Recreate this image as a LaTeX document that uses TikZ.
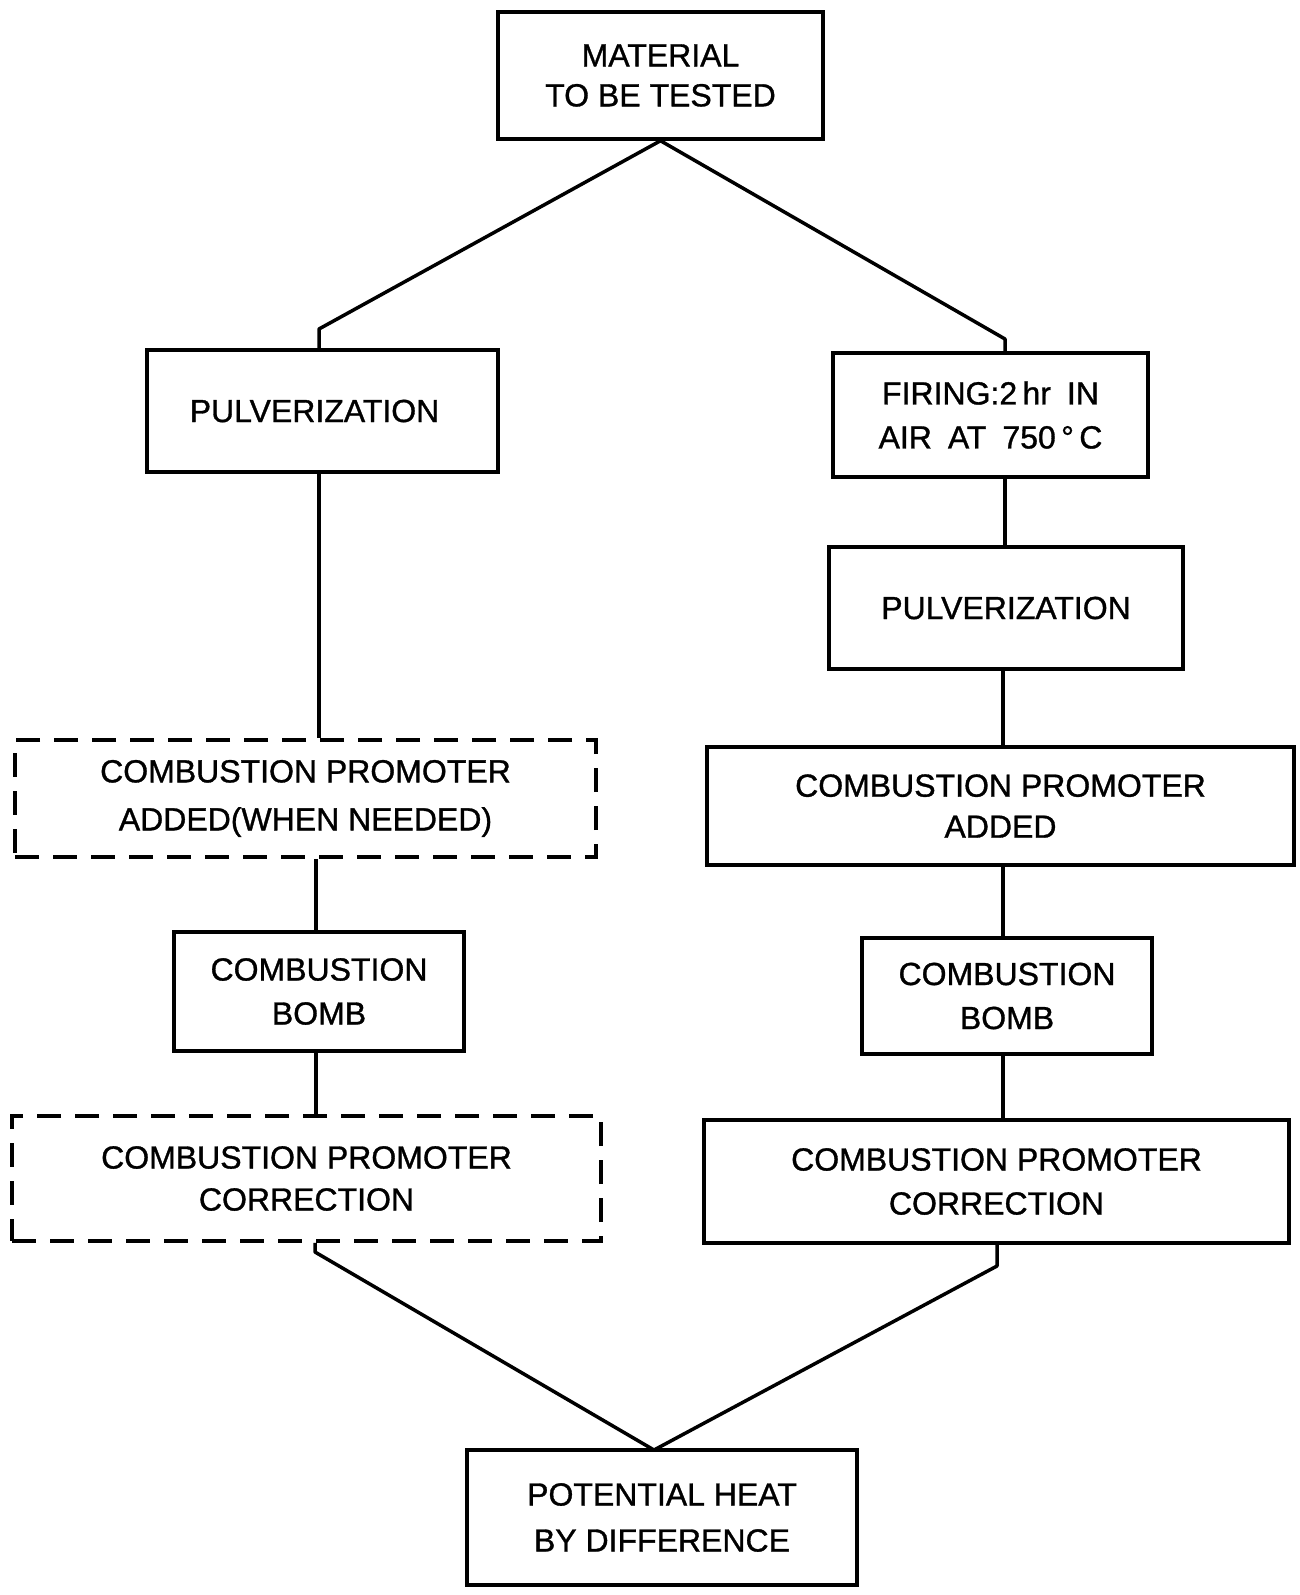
\documentclass[tikz,border=0pt]{standalone}
\usepackage{fontspec}
\setmainfont[FakeBold=1]{Liberation Sans}
\begin{document}
\begin{tikzpicture}[x=1pt,y=-1pt,
  box/.style={draw, line width=3.5pt, inner sep=0pt, align=center,
    font=\fontsize{32}{44}\selectfont},
  dbox/.style={box, dash pattern=on 24pt off 14pt},
  link/.style={line width=3.5pt, line join=round}]
\fill[white] (0,0) rectangle (1299,1595);
\useasboundingbox (0,0) rectangle (1299,1595);

\node[box, minimum width=325pt, minimum height=127pt, font=\fontsize{32}{40}\selectfont]
  (top) at (660.5,75.5) {MATERIAL\\TO BE TESTED};
\node[box, minimum width=351pt, minimum height=122pt] (lp) at (322.5,411) {PULVERIZATION\hspace{16pt}};
\node[box, minimum width=315pt, minimum height=124pt] (fire) at (990.5,415)
  {FIRING:2\,hr\enspace IN\hspace{10pt}\\AIR\enspace AT\enspace 750\,°\,C\hspace{10pt}};
\node[box, minimum width=354pt, minimum height=122pt] (rp) at (1006,608) {PULVERIZATION};
\node[dbox, minimum width=581pt, minimum height=117pt, font=\fontsize{32}{48}\selectfont]
  (ld) at (305.5,798.5) {COMBUSTION PROMOTER\\ADDED(WHEN NEEDED)};
\node[box, minimum width=587pt, minimum height=118pt, font=\fontsize{32}{41}\selectfont]
  (ra) at (1000.5,806) {COMBUSTION PROMOTER\\ADDED};
\node[box, minimum width=290pt, minimum height=119pt] (lb) at (319,991.5) {COMBUSTION\\BOMB};
\node[box, minimum width=290pt, minimum height=116pt] (rb) at (1007,996) {COMBUSTION\\BOMB};
\node[dbox, minimum width=589pt, minimum height=125pt, font=\fontsize{32}{42}\selectfont]
  (lc) at (306.5,1178.5) {COMBUSTION PROMOTER\\CORRECTION};
\node[box, minimum width=585pt, minimum height=123pt] (rc) at (996.5,1181.5) {COMBUSTION PROMOTER\\CORRECTION};
\node[box, minimum width=390pt, minimum height=135pt, font=\fontsize{32}{46}\selectfont]
  (pot) at (662,1517.5) {POTENTIAL HEAT\\BY DIFFERENCE};

\coordinate (b1) at (319,329);
\coordinate (b2) at (1005,339);
\coordinate (cl) at (316,0);
\coordinate (cr) at (1003,0);
\coordinate (b3) at (315,1252);
\coordinate (b4) at (997,1266);
\coordinate (apex) at (654,1450);

\draw[link] (top.south) -- (b1) -- (b1 |- lp.north);
\draw[link] (top.south) -- (b2) -- (b2 |- fire.north);

\draw[link] (lp.south -| b1) -- (ld.north -| b1);
\draw[link] (ld.south -| cl) -- (lb.north -| cl);
\draw[link] (lb.south -| cl) -- (lc.north -| cl);

\draw[link] (fire.south -| b2) -- (rp.north -| b2);
\draw[link] (rp.south -| cr) -- (ra.north -| cr);
\draw[link] (ra.south -| cr) -- (rb.north -| cr);
\draw[link] (rb.south -| cr) -- (rc.north -| cr);

\draw[link] (lc.south -| b3) -- (b3) -- (apex);
\draw[link] (rc.south -| b4) -- (b4) -- (apex);
\end{tikzpicture}
\end{document}
